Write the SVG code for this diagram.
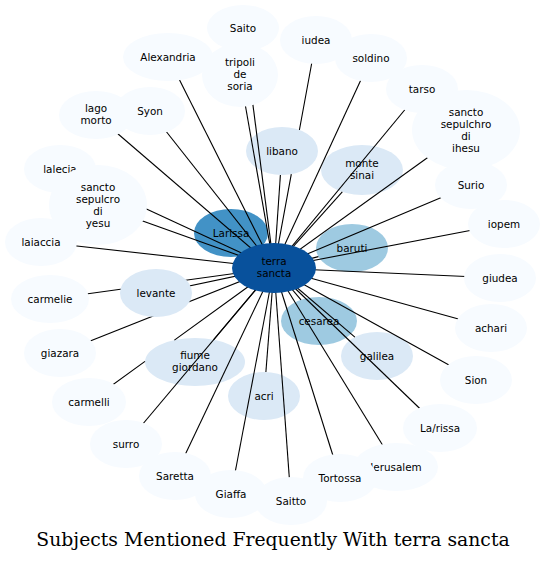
<svg xmlns="http://www.w3.org/2000/svg" width="546" height="562" viewBox="0 0 546 562">
<style>
.n ellipse{stroke:none}
.c0{fill:#f7fbff}
.c1{fill:#dbe9f6}
.c2{fill:#9ecae1}
.c3{fill:#4292c6}
.c4{fill:#08519c}
text{font-family:"DejaVu Sans",sans-serif;font-size:10.4px;fill:#000;text-anchor:middle}
.title{font-family:"DejaVu Serif",serif;font-size:18.8px}
#connectors path{stroke:#000;stroke-width:1.1;fill:none}
</style>
<rect width="546" height="562" fill="#fff"/>
<g id="nodes-lower">
<g id="n-larissa" class="n"><ellipse class="c3" cx="231" cy="233" rx="37" ry="24"/><text x="231" y="236.5">Larissa</text></g>
<g id="n-baruti" class="n"><ellipse class="c2" cx="352" cy="248" rx="36" ry="24"/><text x="352" y="251.5">baruti</text></g>
<g id="n-cesarea" class="n"><ellipse class="c2" cx="319" cy="321" rx="38" ry="24"/><text x="319" y="324.5">cesarea</text></g>
<g id="n-galilea" class="n"><ellipse class="c1" cx="377" cy="356" rx="36" ry="24"/><text x="377" y="359.5">galilea</text></g>
<g id="n-monte-sinai" class="n"><ellipse class="c1" cx="362" cy="170" rx="41" ry="25"/><text x="362" y="166.5">monte</text><text x="362" y="178.5">sinai</text></g>
<g id="n-libano" class="n"><ellipse class="c1" cx="282" cy="151" rx="36" ry="24"/><text x="282" y="154.5">libano</text></g>
<g id="n-fiume-giordano" class="n"><ellipse class="c1" cx="195" cy="362" rx="50" ry="24"/><text x="195" y="358.5">fiume</text><text x="195" y="370.5">giordano</text></g>
<g id="n-acri" class="n"><ellipse class="c1" cx="264" cy="396" rx="36" ry="24"/><text x="264" y="399.5">acri</text></g>
</g>
<g id="connectors">
<path d="M243,28L274,268"/>
<path d="M168,57L274,268"/>
<path d="M240,75L274,268"/>
<path d="M316,40L299.4,130M291.3,174.2L274,268"/>
<path d="M371,58L274,268"/>
<path d="M422,89L274,268"/>
<path d="M466,130L274,268"/>
<path d="M471,185L274,268"/>
<path d="M504,224L274,268"/>
<path d="M500,278L274,268"/>
<path d="M491,328L274,268"/>
<path d="M476,380L274,268"/>
<path d="M440,428L274,268"/>
<path d="M396,467L274,268"/>
<path d="M340,478L274,268"/>
<path d="M291,501L274,268"/>
<path d="M231,494L274,268"/>
<path d="M175,476L274,268"/>
<path d="M126,444L274,268"/>
<path d="M89,402L145,361.4M174.4,340.1L274,268"/>
<path d="M60,353L274,268"/>
<path d="M50,299L274,268"/>
<path d="M41,242L274,268"/>
<path d="M60,169L274,268"/>
<path d="M98,205L274,268"/>
<path d="M96,115L274,268"/>
<path d="M150,111L274,268"/>
<path d="M156,293L274,268"/>
<path d="M254.1,251.8L274,268"/>
<path d="M318.4,256.6L274,268"/>
<path d="M301,299.9L274,268"/>
<path d="M354.9,337.1L274,268"/>
<path d="M342.3,191.9L274,268"/>
<path d="M280.4,175L274,268"/>
<path d="M213.7,339.7L274,268"/>
<path d="M265.9,372L274,268"/>
</g>
<g id="nodes-upper">
<g id="n-saito" class="n"><ellipse class="c0" cx="243" cy="28" rx="36" ry="23"/><text x="243" y="31.5">Saito</text></g>
<g id="n-alexandria" class="n"><ellipse class="c0" cx="168" cy="57" rx="45" ry="24"/><text x="168" y="60.5">Alexandria</text></g>
<g id="n-tripoli" class="n"><ellipse class="c0" cx="240" cy="75" rx="38" ry="32"/><text x="240" y="65.5">tripoli</text><text x="240" y="77.5">de</text><text x="240" y="89.5">soria</text></g>
<g id="n-iudea" class="n"><ellipse class="c0" cx="316" cy="40" rx="36" ry="24"/><text x="316" y="43.5">iudea</text></g>
<g id="n-soldino" class="n"><ellipse class="c0" cx="371" cy="58" rx="36" ry="24"/><text x="371" y="61.5">soldino</text></g>
<g id="n-tarso" class="n"><ellipse class="c0" cx="422" cy="89" rx="36" ry="24"/><text x="422" y="92.5">tarso</text></g>
<g id="n-sancto-sepulchro" class="n"><ellipse class="c0" cx="466" cy="130" rx="54" ry="40"/><text x="466" y="115.5">sancto</text><text x="466" y="127.5">sepulchro</text><text x="466" y="139.5">di</text><text x="466" y="151.5">ihesu</text></g>
<g id="n-surio" class="n"><ellipse class="c0" cx="471" cy="185" rx="36" ry="24"/><text x="471" y="188.5">Surio</text></g>
<g id="n-iopem" class="n"><ellipse class="c0" cx="504" cy="224" rx="36" ry="24"/><text x="504" y="227.5">iopem</text></g>
<g id="n-giudea" class="n"><ellipse class="c0" cx="500" cy="278" rx="36" ry="24"/><text x="500" y="281.5">giudea</text></g>
<g id="n-achari" class="n"><ellipse class="c0" cx="491" cy="328" rx="36" ry="24"/><text x="491" y="331.5">achari</text></g>
<g id="n-sion" class="n"><ellipse class="c0" cx="476" cy="380" rx="36" ry="24"/><text x="476" y="383.5">Sion</text></g>
<g id="n-la-rissa" class="n"><ellipse class="c0" cx="440" cy="428" rx="37" ry="24"/><text x="440" y="431.5">La/rissa</text></g>
<g id="n-jerusalem" class="n"><ellipse class="c0" cx="396" cy="467" rx="42" ry="24"/><text x="396" y="470.5">Jerusalem</text></g>
<g id="n-tortossa" class="n"><ellipse class="c0" cx="340" cy="478" rx="37" ry="24"/><text x="340" y="481.5">Tortossa</text></g>
<g id="n-saitto" class="n"><ellipse class="c0" cx="291" cy="501" rx="36" ry="24"/><text x="291" y="504.5">Saitto</text></g>
<g id="n-giaffa" class="n"><ellipse class="c0" cx="231" cy="494" rx="36" ry="24"/><text x="231" y="497.5">Giaffa</text></g>
<g id="n-saretta" class="n"><ellipse class="c0" cx="175" cy="476" rx="36" ry="24"/><text x="175" y="479.5">Saretta</text></g>
<g id="n-surro" class="n"><ellipse class="c0" cx="126" cy="444" rx="36" ry="24"/><text x="126" y="447.5">surro</text></g>
<g id="n-carmelli" class="n"><ellipse class="c0" cx="89" cy="402" rx="37" ry="24"/><text x="89" y="405.5">carmelli</text></g>
<g id="n-giazara" class="n"><ellipse class="c0" cx="60" cy="353" rx="36" ry="24"/><text x="60" y="356.5">giazara</text></g>
<g id="n-carmelie" class="n"><ellipse class="c0" cx="50" cy="299" rx="39" ry="24"/><text x="50" y="302.5">carmelie</text></g>
<g id="n-laiaccia" class="n"><ellipse class="c0" cx="41" cy="242" rx="36" ry="24"/><text x="41" y="245.5">laiaccia</text></g>
<g id="n-lalecia" class="n"><ellipse class="c0" cx="60" cy="169" rx="36" ry="24"/><text x="60" y="172.5">lalecia</text></g>
<g id="n-sancto-sepulcro" class="n"><ellipse class="c0" cx="98" cy="205" rx="49" ry="40"/><text x="98" y="191">sancto</text><text x="98" y="203">sepulcro</text><text x="98" y="215">di</text><text x="98" y="227">yesu</text></g>
<g id="n-lago-morto" class="n"><ellipse class="c0" cx="96" cy="115" rx="37" ry="24"/><text x="96" y="111.5">lago</text><text x="96" y="123.5">morto</text></g>
<g id="n-syon" class="n"><ellipse class="c0" cx="150" cy="111" rx="35" ry="24"/><text x="150" y="114.5">Syon</text></g>
<g id="n-levante" class="n"><ellipse class="c1" cx="156" cy="293" rx="36" ry="24"/><text x="156" y="296.5">levante</text></g>
<g id="n-terra-sancta" class="n"><ellipse class="c4" cx="274" cy="268" rx="42" ry="25"/><text x="274" y="265">terra</text><text x="274" y="277">sancta</text></g>
</g>
<text class="title" x="273" y="546">Subjects Mentioned Frequently With terra sancta</text>
</svg>
